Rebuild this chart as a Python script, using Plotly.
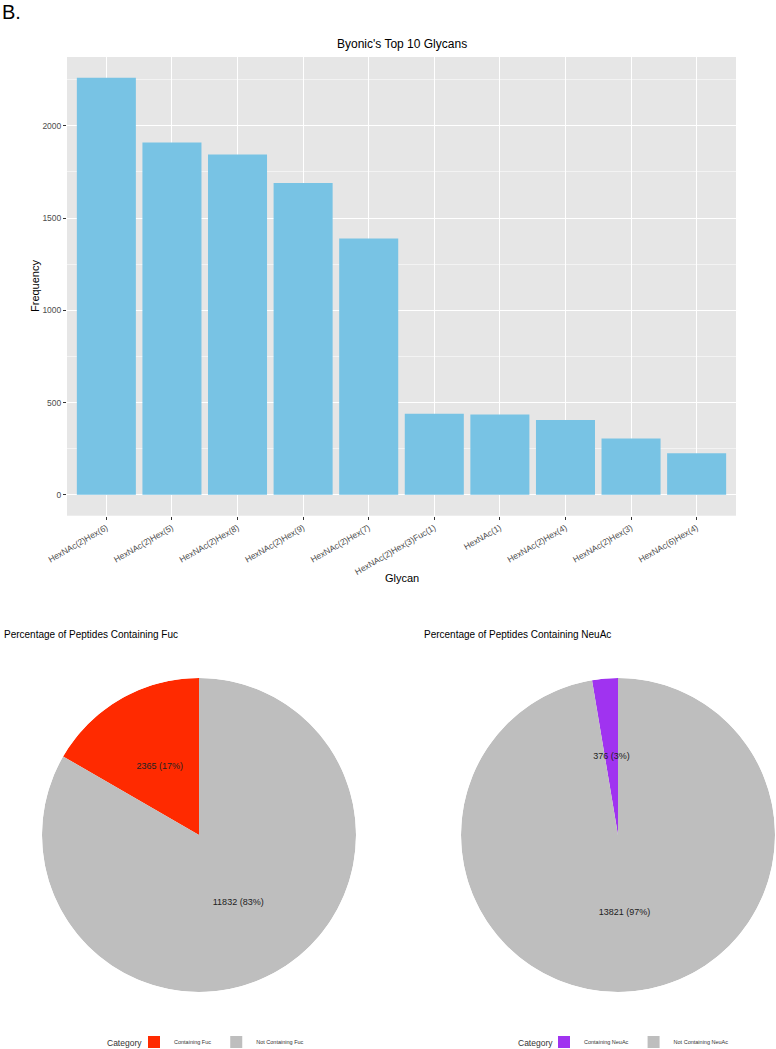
import plotly.graph_objects as go

# ---------------- data ----------------
glycans = ["HexNAc(2)Hex(6)", "HexNAc(2)Hex(5)", "HexNAc(2)Hex(8)", "HexNAc(2)Hex(9)",
           "HexNAc(2)Hex(7)", "HexNAc(2)Hex(3)Fuc(1)", "HexNAc(1)", "HexNAc(2)Hex(4)",
           "HexNAc(2)Hex(3)", "HexNAc(6)Hex(4)"]
frequency = [2260, 1910, 1845, 1690, 1390, 440, 435, 405, 306, 226]

fuc_labels = ["Containing Fuc", "Not Containing Fuc"]
fuc_counts = [2365, 11832]
neu_labels = ["Containing NeuAc", "Not Containing NeuAc"]
neu_counts = [376, 13821]

W, H = 776, 1049
def px(x): return x / W
def py(y): return 1 - y / H

FONT = "Liberation Sans, Arial, sans-serif"
fig = go.Figure()

# ---------------- bar chart ----------------
fig.add_trace(go.Bar(x=glycans, y=frequency, marker=dict(color="#78c3e4", line=dict(width=0)),
                     showlegend=False, xaxis="x", yaxis="y"))
ymax = max(frequency)

# ---------------- pies as polar wedges ----------------
def pie_traces(labels, counts, colors, subplot, legend):
    total = sum(counts)
    cum = 0
    traces = []
    mids, texts = [], []
    for lab, c, col in zip(labels, counts, colors):
        w = c / total * 360
        mid = (cum + c / 2) / total * 360
        cum += c
        traces.append(go.Barpolar(r=[1], theta=[mid], width=[w], name=lab,
                                  marker=dict(color=col, line=dict(width=0)),
                                  subplot=subplot, legend=legend, hoverinfo="name"))
        mids.append(mid)
        texts.append(f"{c} ({round(c / total * 100)}%)")
    traces.append(go.Scatterpolar(r=[0.5] * len(mids), theta=mids, text=texts, mode="text",
                                  textfont=dict(size=9, color="#222222", family=FONT),
                                  subplot=subplot, showlegend=False, hoverinfo="skip"))
    return traces

for t in pie_traces(fuc_labels, fuc_counts, ["#ff2a00", "#bebebe"], "polar", "legend"):
    fig.add_trace(t)
for t in pie_traces(neu_labels, neu_counts, ["#a033f0", "#bebebe"], "polar2", "legend2"):
    fig.add_trace(t)

polar_common = dict(
    bgcolor="rgba(0,0,0,0)",
    radialaxis=dict(visible=False, range=[0, 1]),
    angularaxis=dict(visible=False, rotation=90, direction="counterclockwise"),
    hole=0,
)

legend_common = dict(orientation="h", yanchor="middle", xanchor="left",
                     xref="container", yref="container",
                     font=dict(size=5.5, color="#333333", family=FONT),
                     bgcolor="rgba(0,0,0,0)", itemclick=False, itemdoubleclick=False,
                     itemwidth=30, tracegroupgap=0)

fig.update_layout(
    width=W, height=H,
    margin=dict(l=0, r=0, t=0, b=0, autoexpand=False),
    paper_bgcolor="white",
    plot_bgcolor="#e6e6e6",
    font=dict(family=FONT, color="#333333"),
    bargap=0.1,
    xaxis=dict(domain=[px(67), px(736)], anchor="y", range=[-0.6, len(glycans) - 0.4],
               automargin=False,
               showgrid=True, gridcolor="white", gridwidth=1.1, zeroline=False,
               ticks="outside", ticklen=3, tickcolor="#333333", tickwidth=1,
               tickangle=-30, tickfont=dict(size=8.5, color="#4d4d4d")),
    yaxis=dict(domain=[py(515.7), py(57)], anchor="x", range=[-0.05 * ymax, 1.05 * ymax],
               automargin=False,
               dtick=500, showgrid=True, gridcolor="white", gridwidth=1.1, zeroline=False,
               ticks="outside", ticklen=3, tickcolor="#333333", tickwidth=1,
               tickfont=dict(size=8.5, color="#4d4d4d"),
               minor=dict(dtick=250, showgrid=True, gridcolor="#f3f3f3", gridwidth=0.6)),
    polar=dict(domain=dict(x=[px(42), px(356)], y=[py(992), py(678)]), **polar_common),
    polar2=dict(domain=dict(x=[px(461), px(775)], y=[py(992), py(678)]), **polar_common),
    legend=dict(x=px(134), y=py(1042), **legend_common),
    legend2=dict(x=px(544), y=py(1042), **legend_common),
    annotations=[
        dict(text="B.", x=px(0.5), y=py(0), xref="paper", yref="paper", xanchor="left",
             yanchor="top", showarrow=False, borderpad=0, font=dict(size=20, color="black")),
        dict(text="Byonic's Top 10 Glycans", x=px(401.5), y=py(44), xref="paper", yref="paper",
             xanchor="center", yanchor="middle", showarrow=False,
             font=dict(size=12, color="black")),
        dict(text="Frequency", x=px(35), y=py(286), xref="paper", yref="paper", textangle=-90,
             xanchor="center", yanchor="middle", showarrow=False,
             font=dict(size=11, color="black")),
        dict(text="Glycan", x=px(401.5), y=py(578), xref="paper", yref="paper",
             xanchor="center", yanchor="middle", showarrow=False,
             font=dict(size=11, color="black")),
        dict(text="Percentage of Peptides Containing Fuc", x=px(2), y=py(634), xref="paper",
             yref="paper", xanchor="left", yanchor="middle", showarrow=False,
             font=dict(size=10, color="black")),
        dict(text="Percentage of Peptides Containing NeuAc", x=px(422), y=py(634), xref="paper",
             yref="paper", xanchor="left", yanchor="middle", showarrow=False,
             font=dict(size=10, color="black")),
        dict(text="Category", x=px(144), y=py(1042.5), xref="paper", yref="paper",
             xanchor="right", yanchor="middle", showarrow=False,
             font=dict(size=8.5, color="#333333")),
        dict(text="Category", x=px(555), y=py(1042.5), xref="paper", yref="paper",
             xanchor="right", yanchor="middle", showarrow=False,
             font=dict(size=8.5, color="#333333")),
    ],
)

fig.write_html("out.html",
               config={"displayModeBar": False},
               post_script="document.body.style.margin='0px';"
                           "document.body.style.overflow='hidden';"
                           "document.documentElement.style.overflow='hidden';")
